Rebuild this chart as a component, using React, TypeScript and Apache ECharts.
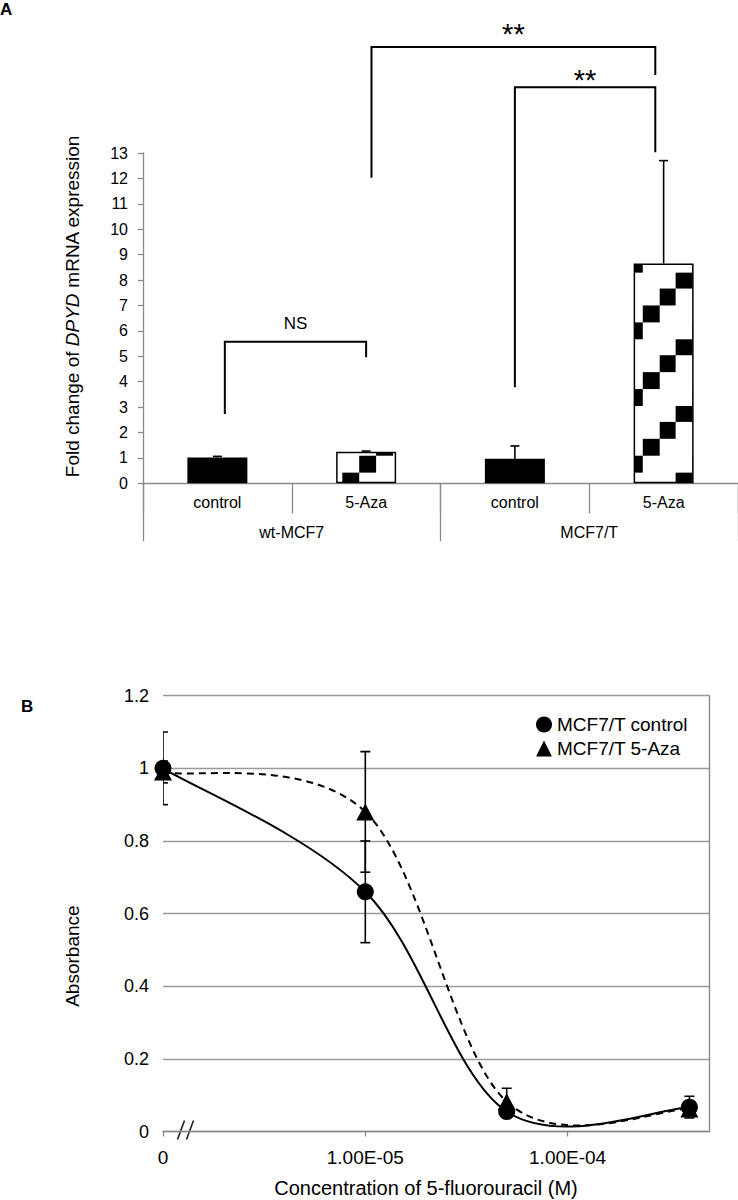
import React, { useEffect, useRef } from 'react';
import * as echarts from 'echarts';

const FONT = "'Liberation Sans', Arial, Helvetica, sans-serif";
const AXIS_GRAY = '#8a8a8a';

// ---------- Panel A data ----------
const conditions = ['control', '5-Aza', 'control', '5-Aza'];
const cellLines = ['wt-MCF7', 'MCF7/T'];
const foldChange = [1.02, 1.24, 0.97, 8.65];
const foldChangeErr = [0.04, 0.03, 0.5, 4.05];

// significance brackets (category indexes and y values)
const bracketFrom = [0, 2, 1];
const bracketTo = [1, 3, 3];
const bracketFromY = [2.73, 3.78, 12.03];
const bracketTopY = [5.57, 15.59, 17.17];
const bracketToY = [4.96, 13.03, 16.07];
const bracketLabels = ['NS', '**', '**'];
const bracketLabelY = [6.27, 16.15, 17.96];
const bracketFromShift = [0.05, 0, 0.036];
const bracketToShift = [0, -0.056, -0.056];

// ---------- Panel B data ----------
const concentrations = [0, 1e-5, 5e-5, 4e-4];
const ZERO_AT = 1e-6; // where concentration 0 is drawn on the broken log axis
const controlAbs = [1.0, 0.66, 0.055, 0.067];
const controlErr = [0.1, 0.14, 0.01, 0.03];
const azaAbs = [0.99, 0.88, 0.082, 0.062];
const azaErr = [0.03, 0.166, 0.037, 0.02];
const seriesNames = ['MCF7/T control', 'MCF7/T 5-Aza'];

const plotX = concentrations.map((c) => (c === 0 ? ZERO_AT : c));

function makeTile(): string {
  const P = 200 / 3;
  const s = P / 4;
  const rects: string[] = [];
  for (let j = 0; j < 4; j++) {
    const y0 = (255.7 + s * j) % P;
    const x0 = (626 + s * ((4 - j) % 4)) % P;
    for (const dx of [0, -P]) {
      for (const dy of [0, -P]) {
        rects.push(`<rect x="${(x0 + dx).toFixed(3)}" y="${(y0 + dy).toFixed(3)}" width="${s.toFixed(3)}" height="${s.toFixed(3)}"/>`);
      }
    }
  }
  const svg = `<svg xmlns="http://www.w3.org/2000/svg" width="${P.toFixed(3)}" height="${P.toFixed(3)}" viewBox="0 0 ${P.toFixed(3)} ${P.toFixed(3)}" shape-rendering="crispEdges"><rect width="${P.toFixed(3)}" height="${P.toFixed(3)}" fill="#fff"/><g fill="#000">${rects.join('')}</g></svg>`;
  return 'data:image/svg+xml;charset=utf-8,' + encodeURIComponent(svg);
}

function xLabel(v: number): string {
  const lg = Math.log10(v);
  const e = Math.round(lg);
  if (Math.abs(lg - e) > 1e-6) return '';
  if (v <= ZERO_AT * 1.0001) return '0';
  return '1.00E-' + String(-e).padStart(2, '0');
}

export default function App() {
  const ref = useRef<HTMLDivElement>(null);
  useEffect(() => {
    document.body.style.margin = '0';
    if (!ref.current) return;
    const chart = echarts.init(ref.current, undefined, { renderer: 'svg' });
    const P = 200 / 3;
    const pattern: any = { image: makeTile(), repeat: 'repeat', imageWidth: P, imageHeight: P };

    const errorBarRenderer = (capHalf: number, lw: number) => (params: any, api: any) => {
      const x = api.value(0);
      const y = api.value(1);
      const e = api.value(2);
      const top = api.coord([x, y + e]);
      const bottom = api.coord([x, y]);
      return {
        type: 'group',
        children: [
          { type: 'line', shape: { x1: top[0], y1: top[1], x2: bottom[0], y2: bottom[1] }, style: { stroke: '#000', lineWidth: lw } },
          { type: 'line', shape: { x1: top[0] - capHalf, y1: top[1], x2: top[0] + capHalf, y2: top[1] }, style: { stroke: '#000', lineWidth: lw } },
        ],
      };
    };

    const symErrorRenderer = (params: any, api: any) => {
      const x = api.value(0);
      const y = api.value(1);
      const e = api.value(2);
      const top = api.coord([x, y + e]);
      const bot = api.coord([x, y - e]);
      const c = 5;
      const st = { stroke: '#000', lineWidth: 1.6 };
      return {
        type: 'group',
        children: [
          { type: 'line', shape: { x1: top[0], y1: top[1], x2: bot[0], y2: bot[1] }, style: st },
          { type: 'line', shape: { x1: top[0] - c, y1: top[1], x2: top[0] + c, y2: top[1] }, style: st },
          { type: 'line', shape: { x1: bot[0] - c, y1: bot[1], x2: bot[0] + c, y2: bot[1] }, style: st },
        ],
      };
    };

    // Excel-like smoothed line: cubic Bezier segments with Catmull-Rom tangents (1/6)
    const curveRenderer = (xs: number[], ys: number[], dashed: boolean) => (params: any, api: any) => {
      const i = params.dataIndex;
      const n = xs.length;
      if (i >= n - 1) return { type: 'group', children: [] };
      const cl = (j: number) => Math.max(0, Math.min(n - 1, j));
      const pt = (j: number) => api.coord([xs[cl(j)], ys[cl(j)]]);
      const p0 = pt(i - 1);
      const p1 = pt(i);
      const p2 = pt(i + 1);
      const p3 = pt(i + 2);
      return {
        type: 'bezierCurve',
        shape: {
          x1: p1[0],
          y1: p1[1],
          cpx1: p1[0] + (p2[0] - p0[0]) / 6,
          cpy1: p1[1] + (p2[1] - p0[1]) / 6,
          cpx2: p2[0] - (p3[0] - p1[0]) / 6,
          cpy2: p2[1] - (p3[1] - p1[1]) / 6,
          x2: p2[0],
          y2: p2[1],
        },
        style: { stroke: '#000', lineWidth: 2, fill: 'none', lineDash: dashed ? [7, 5] : null },
      };
    };

    const bracketRenderer = (params: any, api: any) => {
      const i = params.dataIndex;
      const band = api.size([1, 0])[0];
      const a = api.coord([bracketFrom[i], bracketFromY[i]]);
      const t1 = api.coord([bracketFrom[i], bracketTopY[i]]);
      const b = api.coord([bracketTo[i], bracketToY[i]]);
      const xl = a[0] + bracketFromShift[i] * band;
      const xr = b[0] + bracketToShift[i] * band;
      const lbl = api.coord([bracketFrom[i], bracketLabelY[i]]);
      const isStar = bracketLabels[i] === '**';
      return {
        type: 'group',
        children: [
          {
            type: 'polyline',
            shape: { points: [[xl, a[1]], [xl, t1[1]], [xr, t1[1]], [xr, b[1]]] },
            style: { stroke: '#000', lineWidth: 2, fill: 'none' },
          },
          {
            type: 'text',
            x: (xl + xr) / 2,
            y: lbl[1] + (isStar ? 7 : 0),
            style: {
              text: bracketLabels[i],
              fontFamily: FONT,
              fontSize: isStar ? 29 : 17,
              fill: '#000',
              align: 'center',
              verticalAlign: 'middle',
            },
          },
        ],
      };
    };

    const option: any = {
      animation: false,
      backgroundColor: '#fff',
      textStyle: { fontFamily: FONT },
      title: [
        { text: 'A', left: 0, top: 1, padding: 0, textStyle: { fontFamily: FONT, fontSize: 17, fontWeight: 'bold', color: '#000' } },
        { text: 'B', left: 21, top: 698, padding: 0, textStyle: { fontFamily: FONT, fontSize: 17, fontWeight: 'bold', color: '#000' } },
      ],
      legend: {
        orient: 'vertical',
        left: 536,
        top: 715,
        itemWidth: 16,
        itemHeight: 16,
        itemGap: 5,
        padding: 0,
        textStyle: { fontFamily: FONT, fontSize: 19, color: '#000' },
        data: [
          { name: seriesNames[0], icon: 'circle' },
          { name: seriesNames[1], icon: 'triangle' },
        ],
      },
      grid: [
        { left: 143, top: 153, width: 596, height: 330.3 },
        { left: 163, top: 695.7, width: 546, height: 435.8 },
      ],
      xAxis: [
        {
          type: 'category',
          gridIndex: 0,
          data: conditions,
          position: 'bottom',
          axisLine: { show: true, lineStyle: { color: AXIS_GRAY, width: 1.3 } },
          axisTick: { show: true, length: 30, lineStyle: { color: AXIS_GRAY, width: 1.3 } },
          axisLabel: { fontFamily: FONT, fontSize: 16, color: '#000', margin: 11 },
        },
        {
          type: 'category',
          gridIndex: 0,
          data: cellLines,
          position: 'bottom',
          axisLine: { show: false },
          axisTick: { show: true, length: 58, lineStyle: { color: AXIS_GRAY, width: 1.3 } },
          axisLabel: { fontFamily: FONT, fontSize: 16, color: '#000', margin: 41 },
        },
        {
          type: 'log',
          gridIndex: 1,
          logBase: 10,
          min: ZERO_AT,
          max: 5e-4,
          axisLine: { show: true, lineStyle: { color: AXIS_GRAY, width: 1.3 } },
          axisTick: { show: true, length: 5, lineStyle: { color: AXIS_GRAY, width: 1.3 } },
          splitLine: { show: false },
          minorTick: { show: false },
          axisLabel: { fontFamily: FONT, fontSize: 19, color: '#000', margin: 16, formatter: xLabel, showMaxLabel: false },
          name: 'Concentration of 5-fluorouracil (M)',
          nameLocation: 'middle',
          nameGap: 46,
          nameTextStyle: { fontFamily: FONT, fontSize: 20, color: '#000', padding: [0, 20, 0, 0] },
        },
      ],
      yAxis: [
        {
          type: 'value',
          gridIndex: 0,
          min: 0,
          max: 13,
          interval: 1,
          axisLine: { show: true, lineStyle: { color: AXIS_GRAY, width: 1.3 } },
          axisTick: { show: true, length: 5, lineStyle: { color: AXIS_GRAY, width: 1.3 } },
          splitLine: { show: false },
          axisLabel: { fontFamily: FONT, fontSize: 16, color: '#000', margin: 15 },
          name: '{n|Fold change of }{i|DPYD}{n| mRNA expression}',
          nameLocation: 'middle',
          nameGap: 61,
          nameTextStyle: {
            fontFamily: FONT,
            fontSize: 19,
            color: '#000',
            padding: [0, 0, 0, 24],
            rich: {
              n: { fontFamily: FONT, fontSize: 19, color: '#000', lineHeight: 20 },
              i: { fontFamily: FONT, fontSize: 19, color: '#000', fontStyle: 'italic', lineHeight: 20 },
            },
          },
        },
        {
          type: 'value',
          gridIndex: 1,
          min: 0,
          max: 1.2,
          interval: 0.2,
          axisLine: { show: false },
          axisTick: { show: false },
          splitLine: { show: true, lineStyle: { color: '#9a9a9a', width: 1.4 } },
          axisLabel: { fontFamily: FONT, fontSize: 18, color: '#000', margin: 14 },
          name: 'Absorbance',
          nameLocation: 'middle',
          nameGap: 81,
          nameTextStyle: { fontFamily: FONT, fontSize: 19, color: '#000', padding: [0, 85, 0, 0] },
        },
        {
          type: 'value',
          gridIndex: 1,
          position: 'right',
          min: 0,
          max: 1.2,
          interval: 0.2,
          axisLine: { show: true, lineStyle: { color: AXIS_GRAY, width: 1.4 } },
          axisTick: { show: false },
          axisLabel: { show: false },
          splitLine: { show: false },
        },
      ],
      series: [
        {
          type: 'bar',
          xAxisIndex: 0,
          yAxisIndex: 0,
          barWidth: 60,
          z: 2,
          data: foldChange.map((v, i) => ({
            value: v,
            itemStyle:
              conditions[i] === 'control'
                ? { color: '#000' }
                : { color: pattern, borderColor: '#000', borderWidth: 1.5 },
          })),
        },
        {
          type: 'custom',
          xAxisIndex: 0,
          yAxisIndex: 0,
          z: 3,
          renderItem: errorBarRenderer(4.5, 1.6),
          data: foldChange.map((v, i) => [i, v, foldChangeErr[i]]),
        },
        {
          type: 'custom',
          xAxisIndex: 0,
          yAxisIndex: 0,
          z: 4,
          clip: false,
          renderItem: bracketRenderer,
          data: bracketLabels.map((l, i) => [bracketFrom[i], bracketTopY[i]]),
        },
        {
          type: 'custom',
          xAxisIndex: 2,
          yAxisIndex: 1,
          clip: true,
          z: 4,
          renderItem: symErrorRenderer,
          data: plotX.map((x, i) => [x, controlAbs[i], controlErr[i]]),
        },
        {
          type: 'custom',
          xAxisIndex: 2,
          yAxisIndex: 1,
          clip: true,
          z: 4,
          renderItem: symErrorRenderer,
          data: plotX.map((x, i) => [x, azaAbs[i], azaErr[i]]),
        },
        {
          type: 'custom',
          xAxisIndex: 2,
          yAxisIndex: 1,
          clip: false,
          z: 5,
          renderItem: curveRenderer(plotX, azaAbs, true),
          data: plotX.map((x, i) => [x, azaAbs[i]]),
        },
        {
          type: 'custom',
          xAxisIndex: 2,
          yAxisIndex: 1,
          clip: false,
          z: 5,
          renderItem: curveRenderer(plotX, controlAbs, false),
          data: plotX.map((x, i) => [x, controlAbs[i]]),
        },
        {
          type: 'scatter',
          name: seriesNames[1],
          xAxisIndex: 2,
          yAxisIndex: 1,
          symbol: 'triangle',
          symbolSize: [18, 17],
          z: 6,
          itemStyle: { color: '#000', opacity: 1 },
          data: plotX.map((x, i) => [x, azaAbs[i]]),
        },
        {
          type: 'scatter',
          name: seriesNames[0],
          xAxisIndex: 2,
          yAxisIndex: 1,
          symbol: 'circle',
          symbolSize: 17,
          z: 7,
          itemStyle: { color: '#000', opacity: 1 },
          data: plotX.map((x, i) => [x, controlAbs[i]]),
        },
      ],
      graphic: [
        {
          type: 'group',
          left: 175,
          top: 1118,
          children: [
            { type: 'line', shape: { x1: 0, y1: 19, x2: 7, y2: 0 }, style: { stroke: '#222', lineWidth: 1.6 } },
            { type: 'line', shape: { x1: 9, y1: 19, x2: 16, y2: 0 }, style: { stroke: '#222', lineWidth: 1.6 } },
          ],
        },
      ],
    };
    chart.setOption(option);
    return () => chart.dispose();
  }, []);
  return <div ref={ref} style={{ width: 738, height: 1200 }} />;
}
